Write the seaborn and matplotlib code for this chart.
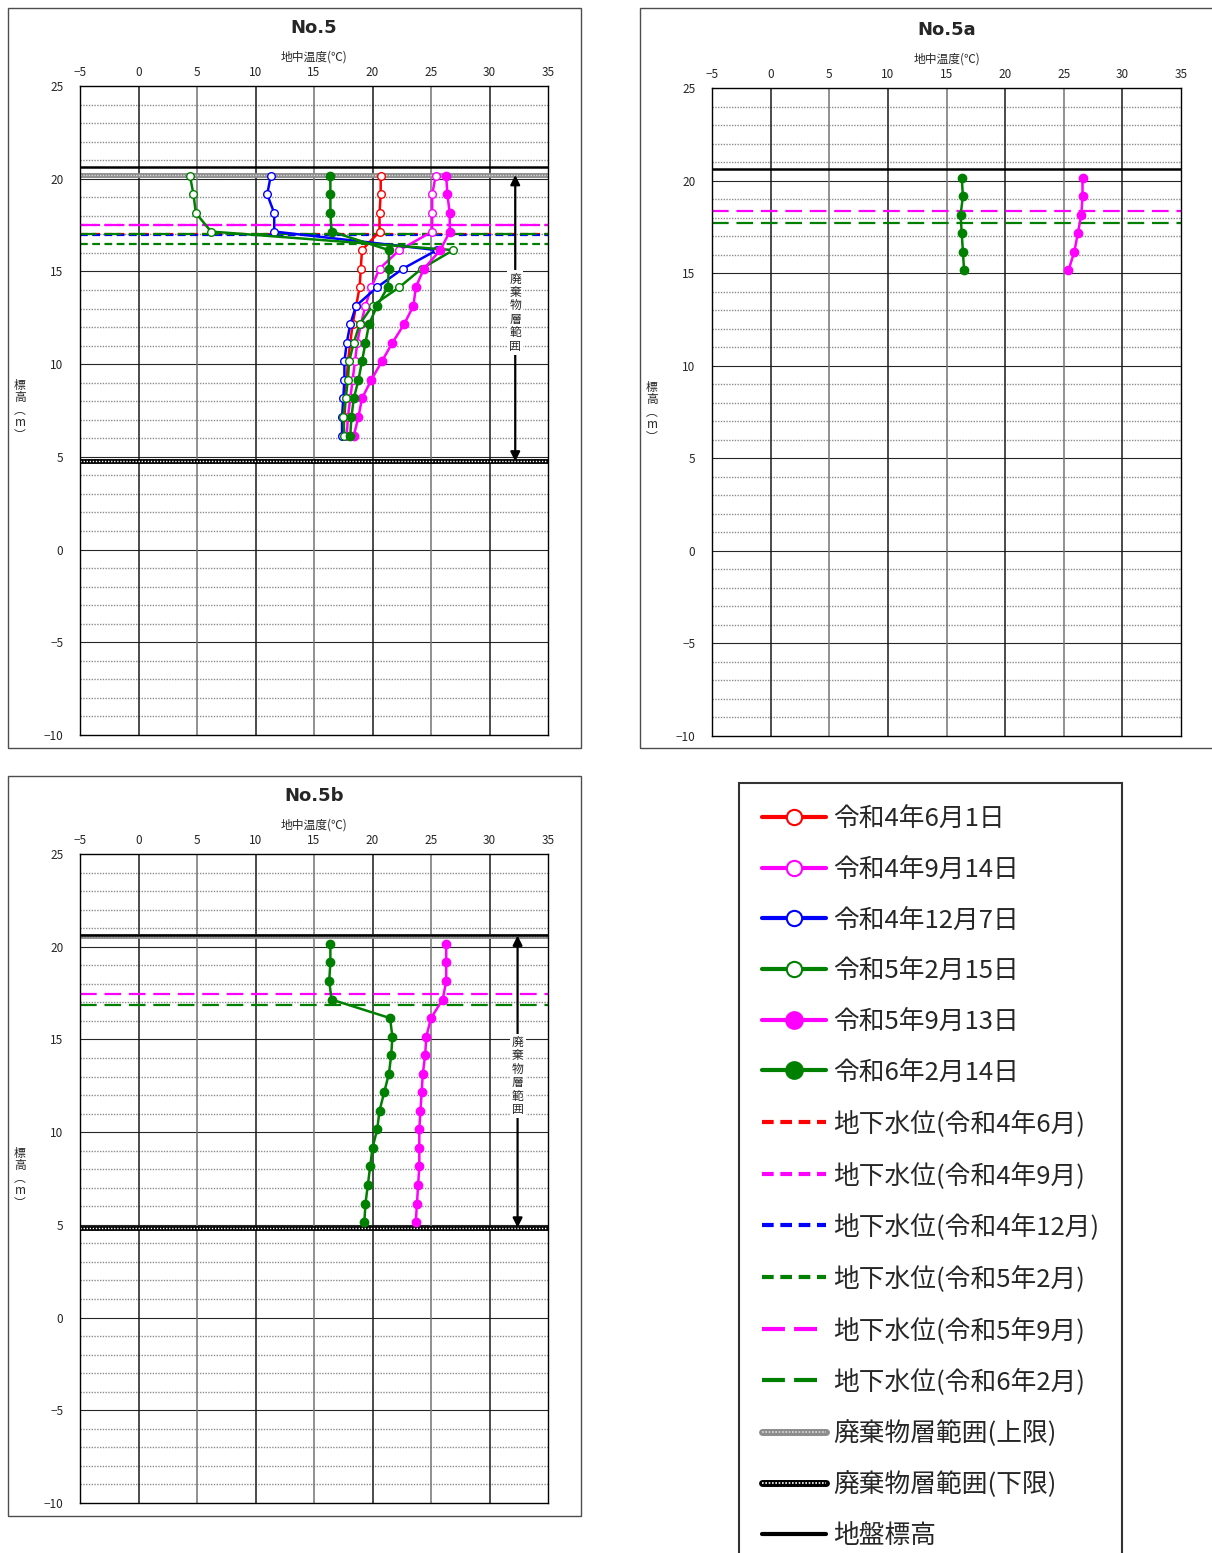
import matplotlib
matplotlib.use("Agg")
import matplotlib.pyplot as plt
import seaborn as sns
from matplotlib.lines import Line2D
from matplotlib.patches import Rectangle

sns.set_style("white")
plt.rcParams['font.family'] = ['Noto Sans CJK JP', 'DejaVu Sans']

# ---- data ----
labels = ['令和4年6月1日', '令和4年9月14日', '令和4年12月7日',
          '令和5年2月15日', '令和5年9月13日', '令和6年2月14日']
gw_labels = ['地下水位(令和4年6月)', '地下水位(令和4年9月)', '地下水位(令和4年12月)',
             '地下水位(令和5年2月)', '地下水位(令和5年9月)', '地下水位(令和6年2月)']
colors = ['#FF0000', '#FF00FF', '#0000FF', '#008000', '#FF00FF', '#008000']
filled = [False, False, False, False, True, True]
gw_long = [False, False, False, False, True, True]

# No.5
elev_5 = [20.15, 19.15, 18.15, 17.15, 16.15, 15.15, 14.15, 13.15, 12.15, 11.15, 10.15, 9.15, 8.15, 7.15, 6.15]
t5_r4_6 = [20.7, 20.7, 20.6, 20.6, 19.1, 19.0, 18.9, 18.6, 18.3, 18.1, 17.9, 17.8, 17.7, 17.6, 17.5]
t5_r4_9 = [25.4, 25.1, 25.1, 25.1, 22.3, 20.6, 19.9, 19.4, 19.0, 18.7, 18.5, 18.3, 18.1, 17.9, 17.8]
t5_r4_12 = [11.3, 11.0, 11.6, 11.6, 25.5, 22.6, 20.4, 18.6, 18.1, 17.8, 17.6, 17.6, 17.5, 17.4, 17.4]
t5_r5_2 = [4.4, 4.7, 4.9, 6.2, 26.9, 24.2, 22.3, 20.0, 18.9, 18.4, 18.0, 17.9, 17.7, 17.5, 17.6]
t5_r5_9 = [26.3, 26.4, 26.6, 26.6, 25.8, 24.4, 23.7, 23.5, 22.7, 21.7, 20.8, 19.9, 19.1, 18.8, 18.4]
t5_r6_2 = [16.4, 16.4, 16.4, 16.5, 21.4, 21.4, 21.3, 20.4, 19.7, 19.4, 19.1, 18.8, 18.4, 18.2, 18.1]
gw_5 = [17.0, 17.5, 16.95, 16.5, 17.5, 17.0]

# No.5a
elev_5a = [20.15, 19.15, 18.15, 17.15, 16.15, 15.15]
t5a_r5_9 = [26.6, 26.6, 26.5, 26.2, 25.9, 25.4]
t5a_r6_2 = [16.3, 16.4, 16.2, 16.3, 16.4, 16.5]
gw_5a = [None, None, None, None, 18.35, 17.7]

# No.5b
elev_5b = [20.15, 19.15, 18.15, 17.15, 16.15, 15.15, 14.15, 13.15, 12.15, 11.15, 10.15, 9.15, 8.15, 7.15, 6.15, 5.15]
t5b_r5_9 = [26.3, 26.3, 26.3, 26.0, 25.0, 24.6, 24.5, 24.3, 24.2, 24.1, 24.0, 24.0, 24.0, 23.9, 23.8, 23.7]
t5b_r6_2 = [16.4, 16.4, 16.3, 16.5, 21.5, 21.7, 21.6, 21.4, 21.0, 20.6, 20.4, 20.0, 19.8, 19.6, 19.4, 19.3]
gw_5b = [None, None, None, None, 17.45, 16.85]

panels = [
    dict(name='No.5', elev=elev_5,
         temps=[t5_r4_6, t5_r4_9, t5_r4_12, t5_r5_2, t5_r5_9, t5_r6_2],
         gw=gw_5, ground=20.65, waste_top=20.2, waste_bot=4.75, arrow_x=32.2,
         rect=[80, 86, 548, 735], frame=[8, 8, 581, 748]),
    dict(name='No.5a', elev=elev_5a,
         temps=[None, None, None, None, t5a_r5_9, t5a_r6_2],
         gw=gw_5a, ground=20.6, waste_top=None, waste_bot=None, arrow_x=None,
         rect=[712, 88, 1181, 736], frame=[640, 8, 1230, 748]),
    dict(name='No.5b', elev=elev_5b,
         temps=[None, None, None, None, t5b_r5_9, t5b_r6_2],
         gw=gw_5b, ground=20.65, waste_top=20.6, waste_bot=4.85, arrow_x=32.4,
         rect=[80, 854, 548, 1503], frame=[8, 776, 581, 1516]),
]

x_ticks = [-5, 0, 5, 10, 15, 20, 25, 30, 35]
y_ticks = [-10, -5, 0, 5, 10, 15, 20, 25]

W, H = 1212, 1553
fig = plt.figure(figsize=(W / 100, H / 100), dpi=100)

SHORT = (3.5, 2.0)
LONG = (7.5, 3.5)

for p in panels:
    x0, y0, x1, y1 = p['rect']
    ax = fig.add_axes([x0 / W, 1 - y1 / H, (x1 - x0) / W, (y1 - y0) / H])
    ax.set_xlim(-5, 35)
    ax.set_ylim(-10, 25)

    # grid
    for yv in range(-9, 25):
        if yv % 5 == 0:
            ax.axhline(yv, color='0.15', lw=0.8, zorder=0)
        else:
            ax.axhline(yv, color='0.55', lw=1.0, ls=(0, (1, 1)), zorder=0)
    for xv in range(0, 35, 5):
        ax.axvline(xv, color='0.1' if xv % 10 == 0 else '0.45', lw=1.1, zorder=0)

    # ground / waste layer limits
    if p['waste_top'] is not None:
        ax.axhline(p['waste_top'], color='0.55', lw=3.5, zorder=1)
        ax.axhline(p['waste_top'], color='0.85', lw=1.0, ls=(0, (1, 1)), zorder=1)
    ax.axhline(p['ground'], color='black', lw=1.8, zorder=1)
    if p['waste_bot'] is not None:
        ax.axhline(p['waste_bot'], color='black', lw=3.5, zorder=1)
        ax.axhline(p['waste_bot'], color='white', lw=1.0, ls=(0, (1, 1.2)), zorder=1)
        ax.annotate('', xy=(p['arrow_x'], p['waste_bot']), xytext=(p['arrow_x'], p['waste_top']),
                    arrowprops=dict(arrowstyle='<|-|>', color='black', lw=1.6,
                                    mutation_scale=14, shrinkA=0, shrinkB=0), zorder=3)
        mid = (p['waste_top'] + p['waste_bot']) / 2 + 0.3
        ax.text(p['arrow_x'], mid, '廃\n棄\n物\n層\n範\n囲', ha='center', va='center',
                fontsize=8.5, linespacing=1.05, zorder=4,
                bbox=dict(facecolor='white', edgecolor='none', pad=1.5))

    # groundwater levels
    for lvl, c, lg in zip(p['gw'], colors, gw_long):
        if lvl is None:
            continue
        ax.axhline(lvl, color=c, lw=1.6, dashes=LONG if lg else SHORT, zorder=2)

    # temperature profiles
    for t, c, f in zip(p['temps'], colors, filled):
        if t is None:
            continue
        sns.lineplot(x=t, y=p['elev'], sort=False, estimator=None, ax=ax, color=c,
                     lw=1.8, marker='o', markersize=6 if f else 5.5,
                     markerfacecolor=c if f else 'white', markeredgecolor=c,
                     markeredgewidth=1.0, legend=False, zorder=5)

    ax.set_xticks(x_ticks)
    ax.set_yticks(y_ticks)
    ax.set_xticklabels([str(v).replace('-', '\u2212') for v in x_ticks])
    ax.set_yticklabels([str(v).replace('-', '\u2212') for v in y_ticks])
    ax.xaxis.tick_top()
    ax.tick_params(axis='both', length=0, labelsize=8.5)
    ax.tick_params(axis='x', pad=5)
    ax.tick_params(axis='y', pad=12)
    ax.set_xlabel('')
    ax.set_ylabel('')
    for s in ax.spines.values():
        s.set_color('black')
        s.set_linewidth(1.0)

    cx = (x0 + x1) / 2
    fig.text(cx / W, 1 - (y0 - 58) / H, p['name'], ha='center', va='center',
             fontsize=13, fontweight='bold', family=['DejaVu Sans'])
    fig.text(cx / W, 1 - (y0 - 29) / H, '地中温度(℃)', ha='center', va='center', fontsize=8.5)
    fig.text((x0 - 60) / W, 1 - ((y0 + y1) / 2) / H, '標\n高\n︵\nm\n︶', ha='center',
             va='center', fontsize=8.5, linespacing=0.95)

    fx0, fy0, fx1, fy1 = p['frame']
    fig.patches.append(Rectangle((fx0 / W, 1 - fy1 / H), (fx1 - fx0) / W, (fy1 - fy0) / H,
                                 transform=fig.transFigure, fill=False, edgecolor='0.3',
                                 lw=1.0, zorder=10))

# ---- legend ----
handles = []
for c, f in zip(colors, filled):
    handles.append(Line2D([], [], color=c, lw=3, marker='o', markersize=12 if f else 11,
                          markerfacecolor=c if f else 'white', markeredgecolor=c,
                          markeredgewidth=1.5))
for c, lg in zip(colors, gw_long):
    handles.append(Line2D([], [], color=c, lw=3, dashes=(5.5, 2.2) if lg else (2.8, 1.6)))
waste_top_h = (Line2D([], [], color='0.55', lw=5), Line2D([], [], color='0.85', lw=1.2, ls=(0, (1, 1))))
waste_bot_h = (Line2D([], [], color='black', lw=5), Line2D([], [], color='white', lw=1.2, ls=(0, (1, 1))))
ground_h = Line2D([], [], color='black', lw=3)
handles += [waste_top_h, waste_bot_h, ground_h]
leg_labels = labels + gw_labels + ['廃棄物層範囲(上限)', '廃棄物層範囲(下限)', '地盤標高']

leg = fig.legend(handles, leg_labels, loc='upper left', bbox_to_anchor=(739 / W, 1 - 783 / H),
                 fontsize=18.5, frameon=True, fancybox=False, edgecolor='black',
                 handlelength=2.5, handletextpad=0.25, labelspacing=0.96,
                 borderpad=0.9, borderaxespad=0)
leg.get_frame().set_linewidth(1.5)

fig.savefig('out.png', dpi=100)
